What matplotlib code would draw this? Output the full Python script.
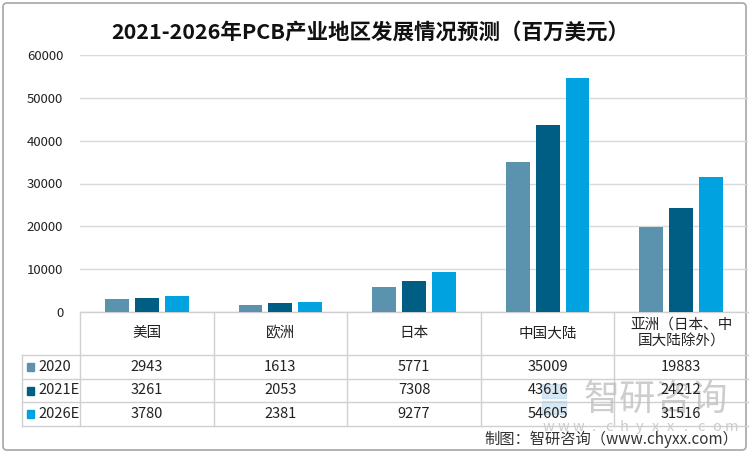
import matplotlib
matplotlib.use("Agg")
import matplotlib.pyplot as plt
import numpy as np
from matplotlib.patches import FancyBboxPatch, Rectangle

plt.rcParams['font.family'] = ['Noto Sans CJK SC', 'DejaVu Sans']

categories = ["美国", "欧洲", "日本", "中国大陆", "亚洲（日本、中\n国大陆除外）"]
series_names = ["2020", "2021E", "2026E"]
v2020 = [2943, 1613, 5771, 35009, 19883]
v2021 = [3261, 2053, 7308, 43616, 24212]
v2026 = [3780, 2381, 9277, 54605, 31516]
series_values = [v2020, v2021, v2026]
colors = ["#5B93AE", "#005E85", "#00A3DF"]
yticks = [0, 10000, 20000, 30000, 40000, 50000, 60000]
title = "2021-2026年PCB产业地区发展情况预测（百万美元）"
source = "制图：智研咨询（www.chyxx.com）"

W, H = 750, 454
fig = plt.figure(figsize=(7.5, 4.54), dpi=100)

# pixel-coordinate overlay for table and decorations
ov = fig.add_axes([0, 0, 1, 1], zorder=0)
ov.set_xlim(0, W)
ov.set_ylim(H, 0)
ov.axis("off")

# outer border
ov.add_patch(FancyBboxPatch((3, 3), 743, 447, boxstyle="round,pad=0,rounding_size=4",
                            fill=False, ec="#a6a6a6", lw=1.2))

# main axes
x0, x1 = 80, 748
ytop, ybot = 55, 312
ax = fig.add_axes([x0 / W, 1 - ybot / H, (x1 - x0) / W, (ybot - ytop) / H], zorder=1)
ax.patch.set_alpha(0)
n = len(categories)
x = np.arange(n)
bw = 24 / 134
step = 30 / 134
for i, (vals, c) in enumerate(zip(series_values, colors)):
    ax.bar(x + (i - 1) * step, vals, width=bw, color=c, zorder=3)
ax.set_xlim(-0.5, n - 0.5)
ax.set_ylim(0, 60000)
ax.set_yticks(yticks)
ax.set_yticklabels([str(t) for t in yticks], fontsize=9.5, color="#222222")
ax.tick_params(axis="y", length=0, pad=12)
ax.set_xticks([])
ax.grid(axis="y", color="#d9d9d9", lw=1, zorder=0)
for s in ax.spines.values():
    s.set_visible(False)

fig.text(370 / W, 1 - 32 / H, title, ha="center", va="center", fontsize=15.5,
         fontweight="bold", color="#111111")

# table
lc = "#d0d0d0"
col_edges = [x0 + k * (x1 - x0) / n for k in range(n + 1)]
row_y = [312, 355, 379, 402, 426]
tab_left = 22
ov.plot([x0, x1], [row_y[0], row_y[0]], color=lc, lw=1)
for yy in row_y[1:]:
    ov.plot([tab_left, x1], [yy, yy], color=lc, lw=1)
for xe in col_edges[:-1]:
    ov.plot([xe, xe], [row_y[0], row_y[-1]], color=lc, lw=1)
ov.plot([tab_left, tab_left], [row_y[1], row_y[-1]], color=lc, lw=1)

for j, cat in enumerate(categories):
    cx = (col_edges[j] + col_edges[j + 1]) / 2
    ov.text(cx, (row_y[0] + row_y[1]) / 2, cat, ha="center", va="center",
            fontsize=10.5, color="#222222", linespacing=1.25)

for i, (name, vals, c) in enumerate(zip(series_names, series_values, colors)):
    cy = (row_y[i + 1] + row_y[i + 2]) / 2
    ov.add_patch(Rectangle((27, cy - 4), 7, 8, color=c))
    ov.text(38, cy, name, ha="left", va="center", fontsize=10.5, color="#222222")
    for j, v in enumerate(vals):
        cx = (col_edges[j] + col_edges[j + 1]) / 2
        ov.text(cx, cy, str(v), ha="center", va="center", fontsize=10.5, color="#222222", zorder=5)

# watermark
ov.add_patch(Rectangle((542, 384), 24, 14, color="#a9cde6", alpha=0.45, zorder=4))
ov.add_patch(Rectangle((542, 401), 24, 13, color="#a9cde6", alpha=0.45, zorder=4))
ov.text(584, 400, "智研咨询", ha="left", va="center", fontsize=26, color="#bdbdbd",
        alpha=0.75, zorder=4)
wm = "www.chyxx.com"
for k, ch in enumerate(wm):
    ov.text(548 + k * 15.3, 427, ch, ha="center", va="center", fontsize=10.5,
            color="#cccccc", zorder=4)

ov.text(738, 439, source, ha="right", va="center", fontsize=11, color="#333333", zorder=6)

fig.savefig("out.png", dpi=100)
